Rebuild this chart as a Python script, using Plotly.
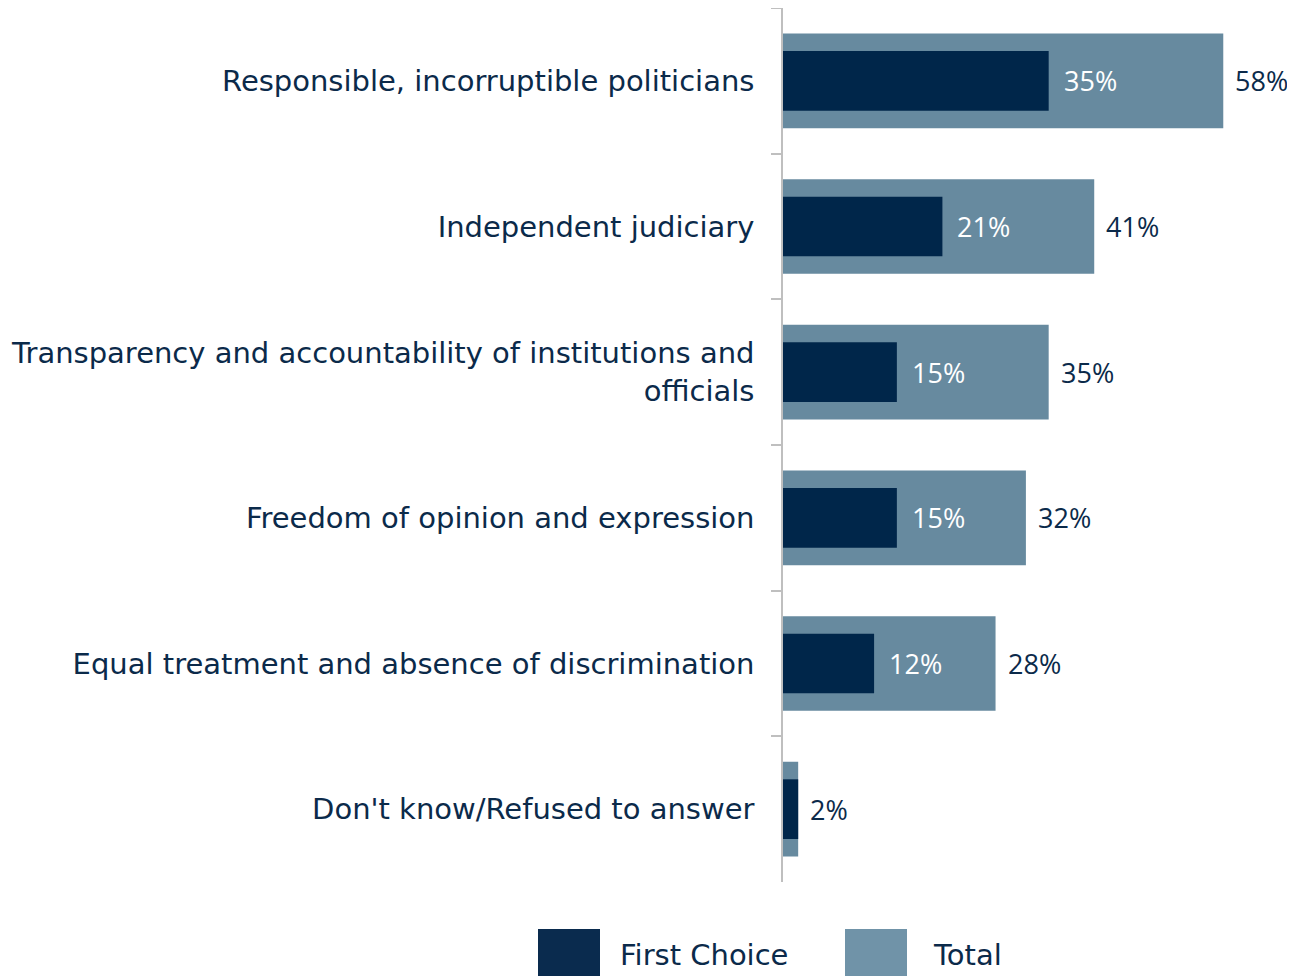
import plotly.graph_objects as go

categories = [
    "Responsible, incorruptible politicians",
    "Independent judiciary",
    "Transparency and accountability of institutions and<br>officials",
    "Freedom of opinion and expression",
    "Equal treatment and absence of discrimination",
    "Don't know/Refused to answer",
]
first_choice = [35, 21, 15, 15, 12, 2]
total = [58, 41, 35, 32, 28, 2]
first_labels = ["35%", "21%", "15%", "15%", "12%", ""]
total_labels = ["58%", "41%", "35%", "32%", "28%", "2%"]
legend_names = ["First Choice", "Total"]

DARK = "#00264A"
LIGHT = "#678A9F"
TEXT = "#0B2A4A"
FONT = "DejaVu Sans"
NUMFONT = "Open Sans"
FS = 29
NFS = 27

# page has an 8px body margin; figure sized so the plot lands where the reference has it
W, H = 1287, 968
ML, MR, MT, MB = 775, 11, 0, 94

fig = go.Figure()
fig.add_trace(go.Bar(y=categories, x=total, orientation="h", name=legend_names[1],
                     marker=dict(color=LIGHT, line=dict(width=0)), width=0.65,
                     hoverinfo="skip"))
fig.add_trace(go.Bar(y=categories, x=first_choice, orientation="h", name=legend_names[0],
                     marker=dict(color=DARK, line=dict(width=0)), width=0.41,
                     hoverinfo="skip"))

annotations = []
for c, v, t in zip(categories, first_choice, first_labels):
    if t:
        annotations.append(dict(x=v, y=c, text=t, xref="x", yref="y", showarrow=False,
                                xanchor="left", xshift=13, font=dict(color="white", size=NFS, family=NUMFONT)))
for c, v, t in zip(categories, total, total_labels):
    annotations.append(dict(x=v, y=c, text=t, xref="x", yref="y", showarrow=False,
                            xanchor="left", xshift=10, font=dict(color=TEXT, size=NFS, family=NUMFONT)))

fig.update_layout(
    barmode="overlay",
    width=W, height=H,
    margin=dict(l=ML, r=MR, t=MT, b=MB),
    plot_bgcolor="white", paper_bgcolor="white",
    showlegend=False,
    font=dict(family=FONT, size=FS, color=TEXT),
    xaxis=dict(range=[0, 66], showticklabels=False, showgrid=False, zeroline=False,
               showline=False, ticks=""),
    yaxis=dict(autorange="reversed", showgrid=False, zeroline=False, showline=True,
               linecolor="#BFBFBF", linewidth=1.5, ticks="outside", tickson="boundaries",
               ticklen=10, tickcolor="#BFBFBF", tickwidth=1.5, ticklabelstandoff=21,
               tickfont=dict(family=FONT, size=FS, color=TEXT)),
    annotations=annotations,
)

def px_to_paper_x(px):
    return (px - 8 - ML) / (W - ML - MR)

def px_to_paper_y(py):
    return (H - MB - (py - 8)) / (H - MB - MT)

for label, color, x0, x1, tx in [(legend_names[0], "#0A2B4E", 538, 600, 618),
                                  (legend_names[1], "#7093A8", 845, 907, 931)]:
    fig.add_shape(type="rect", xref="paper", yref="paper",
                  x0=px_to_paper_x(x0), x1=px_to_paper_x(x1),
                  y0=px_to_paper_y(990), y1=px_to_paper_y(929),
                  fillcolor=color, line=dict(width=0), layer="above")
    fig.add_annotation(x=px_to_paper_x(tx), y=px_to_paper_y(955), xref="paper", yref="paper",
                       text=label, showarrow=False, xanchor="left", yanchor="middle",
                       font=dict(family=FONT, size=FS, color=TEXT))

fig.write_html("out.html")
